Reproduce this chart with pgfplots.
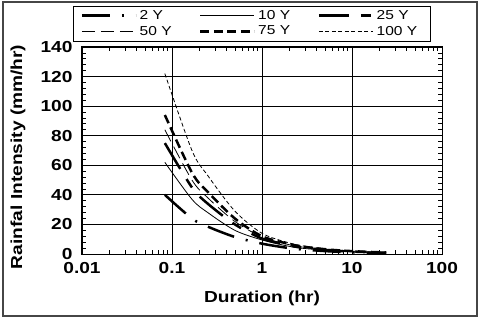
\documentclass[border=0pt]{standalone}
\usepackage{fontspec}
\setmainfont{Liberation Sans}[FakeStretch=1.2]
\usepackage{pgfplots}
\pgfplotsset{compat=1.18}
\begin{document}
\begin{tikzpicture}
\useasboundingbox (0,0) rectangle (480bp,320bp);
\draw[line width=1.5bp, draw={rgb,255:red,70;green,70;blue,70}] (3bp,4bp) rectangle (477bp,318bp);
\begin{axis}[
  at={(82bp,66bp)}, anchor=south west,
  scale only axis, width=360bp, height=207bp,
  xmode=log, xmin=0.01, xmax=100, ymin=0, ymax=140,
  log ticks with fixed point,
  xtick={0.01,0.1,1,10,100},
  ytick={0,20,40,60,80,100,120,140},
  minor y tick num=4,
  grid=major, major grid style={black, line width=0.8bp},
  axis line style={black, line width=1bp},
  tick align=inside, major tick length=5bp, minor tick length=4bp,
  tick style={black, line width=0.8bp},
  /pgf/number format/assume math mode=true,
  tick label style={font=\bfseries\fontsize{16}{16}\selectfont},
  yticklabel style={xshift=-6bp},
  xticklabel style={yshift=-5bp},
  xlabel={Duration (hr)}, ylabel={Rainfal Intensity (mm/hr)},
  label style={font=\bfseries\fontsize{16}{16}\selectfont},
  xlabel style={at={(axis description cs:0.5,-0.2126)}, anchor=center},
  ylabel style={at={(axis description cs:-0.178,0.469)}, anchor=center},
  legend columns=3,
  legend image code/.code={\draw[#1] (0bp,0bp) -- (54bp,0bp);},
  legend style={at={(0.472,1.1135)}, anchor=center, draw=black, line width=0.8bp,
    font=\fontsize{13}{13}\selectfont, inner xsep=7bp, inner ysep=2bp,
    nodes={text width=44bp, inner sep=2.5bp, align=left, line width=0.8bp},
    /tikz/every even column/.append style={column sep=13bp}},
  legend cell align=left,
]
\addplot[black, line width=2.5bp, dash pattern=on 28bp off 12bp on 2bp off 12bp, smooth] coordinates {
 (0.0833,40) (0.1667,24) (0.25,18.5) (0.5,11.5) (1,7) (2,4) (3,2.9) (6,1.7) (12,1.0) (24,0.6)};
\addlegendentry{2 Y}
\addplot[black, line width=0.8bp, smooth] coordinates {
 (0.0833,62) (0.1667,37) (0.25,28) (0.5,16) (1,9.5) (2,5.2) (3,3.7) (6,2.2) (12,1.3) (24,0.8)};
\addlegendentry{10 Y}
\addplot[black, line width=2.5bp, dash pattern=on 30bp off 12bp on 10bp off 12bp, smooth] coordinates {
 (0.0833,75) (0.1667,45) (0.25,34) (0.5,20) (1,10.5) (2,5.8) (3,4.1) (6,2.4) (12,1.45) (24,0.9)};
\addlegendentry{25 Y}
\addplot[black, line width=0.8bp, dash pattern=on 13bp off 6bp, smooth] coordinates {
 (0.0833,84) (0.1667,50) (0.25,38) (0.5,22) (1,11.5) (2,6.3) (3,4.5) (6,2.6) (12,1.55) (24,0.95)};
\addlegendentry{50 Y}
\addplot[black, line width=2.5bp, dash pattern=on 9bp off 4.5bp, smooth] coordinates {
 (0.0833,94) (0.1667,55) (0.25,42) (0.5,24) (1,12) (2,6.8) (3,4.8) (6,2.8) (12,1.7) (24,1.0)};
\addlegendentry{75 Y}
\addplot[black, line width=0.8bp, dash pattern=on 4bp off 2.5bp, smooth] coordinates {
 (0.0833,122) (0.1667,70) (0.25,53) (0.5,29) (1,14) (2,7.5) (3,5.3) (6,3.0) (12,1.8) (24,1.1)};
\addlegendentry{100 Y}
\end{axis}
\end{tikzpicture}
\end{document}
